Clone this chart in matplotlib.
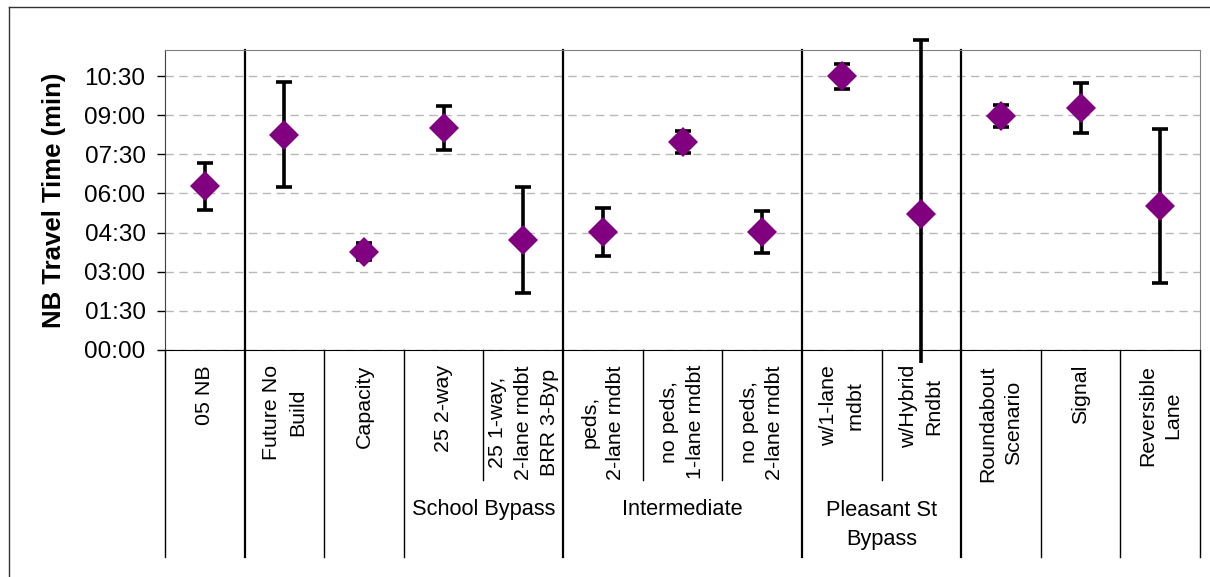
import matplotlib
matplotlib.use("Agg")
import matplotlib.pyplot as plt
from matplotlib.patches import Rectangle
from matplotlib.lines import Line2D
from matplotlib.ticker import FixedLocator, FuncFormatter

plt.rcParams['font.family'] = ['Liberation Sans', 'DejaVu Sans']

# ---- data (minutes) ----
categories = ["05 NB", "Future No\nBuild", "Capacity", "25 2-way",
              "25 1-way,\n2-lane rndbt\nBRR 3-Byp",
              "peds,\n2-lane rndbt", "no peds,\n1-lane rndbt", "no peds,\n2-lane rndbt",
              "w/1-lane\nrndbt", "w/Hybrid\nRndbt",
              "Roundabout\nScenario", "Signal", "Reversible\nLane"]
mean_min = [6.28, 8.26, 3.77, 8.52, 4.21, 4.53, 7.98, 4.53, 10.5, 5.21, 8.97, 9.28, 5.52]
err_min = [0.9, 2.03, 0.33, 0.85, 2.03, 0.92, 0.43, 0.8, 0.48, 6.67, 0.41, 0.96, 2.95]
groups = ["School Bypass", "Intermediate", "Pleasant St\nBypass"]
group_first = [3, 5, 8]
group_last = [4, 7, 9]
ytick_vals = [0, 1.5, 3, 4.5, 6, 7.5, 9, 10.5]

W, H = 1210, 577
fig = plt.figure(figsize=(W / 100, H / 100), dpi=100)
ax = fig.add_axes([165 / W, 1 - 350 / H, (1200 - 165) / W, 300 / H])

n = len(categories)
x = list(range(n))
ax.set_xlim(-0.5, n - 0.5)
ax.set_ylim(0, 11.5)

# grid
ax.yaxis.set_major_locator(FixedLocator(ytick_vals))
ax.yaxis.set_major_formatter(FuncFormatter(
    lambda v, p: f"{int(v):02d}:{int(round((v % 1) * 60)):02d}"))
ax.grid(axis='y', color='#b8b8b8', linestyle=(0, (6, 4)), linewidth=1.0)
ax.set_axisbelow(True)
ax.tick_params(axis='y', labelsize=17.5, length=6, width=1, pad=8, colors='black')
ax.tick_params(axis='x', bottom=False, labelbottom=False)
for s in ['top', 'right']:
    ax.spines[s].set_color('#808080')
ax.spines['left'].set_color('#404040')
ax.spines['bottom'].set_color('black')

ax.set_ylabel("NB Travel Time (min)", fontsize=18.5, fontweight='bold')
ax.yaxis.set_label_coords(-0.096, 0.5)

tx = ax.get_xaxis_transform()

# group boundaries inside plot
bounds_full = [-0.5, 0.5, 1.5, 2.5, 4.5, 7.5, 9.5, 10.5, 11.5, 12.5]
bounds_part = [3.5, 5.5, 6.5, 8.5]
for b in [0.5, 4.5, 7.5, 9.5]:
    ax.plot([b, b], [0, 1], transform=tx, color='black', lw=1.6, zorder=2, clip_on=False)
y_full = (350 - 557) / 300
y_part = (350 - 480) / 300
for b in bounds_full:
    lw = 1.6 if b in (0.5, 4.5, 7.5, 9.5) else 1.0
    ax.plot([b, b], [0, y_full], transform=tx, color='black', lw=lw, clip_on=False)
for b in bounds_part:
    ax.plot([b, b], [0, y_part], transform=tx, color='black', lw=1.0, clip_on=False)

# error bars
eb = ax.errorbar(x, mean_min, yerr=err_min, fmt='none', ecolor='black',
                 elinewidth=2.6, capsize=6, capthick=2.6, zorder=3)
clip_rect = Rectangle((0, 1 - 363 / H), 1, 363 / H, transform=fig.transFigure,
                      facecolor='none', edgecolor='none')
for art in list(eb.lines[1]) + list(eb.lines[2]):
    art.set_clip_on(True)
    art.set_clip_path(clip_rect)

ax.plot(x, mean_min, linestyle='none', marker='D', markersize=15,
        color='#800080', markeredgewidth=0, zorder=4)

# category labels
for i, lab in enumerate(categories):
    ax.text(i, -0.05, lab, transform=tx, rotation=90, ha='center', va='top',
            multialignment='center', fontsize=15.4, linespacing=1.45)

for g, a, b in zip(groups, group_first, group_last):
    ax.text((a + b) / 2, -0.583 if '\n' in g else -0.533, g, transform=tx,
            ha='center', va='center', multialignment='center', fontsize=15.7,
            linespacing=1.45)

# outer chart border
fig.add_artist(Line2D([9 / W, 9 / W], [0, 1 - 7 / H], transform=fig.transFigure,
                      color='#333333', lw=1.0))
fig.add_artist(Line2D([9 / W, 1], [1 - 7 / H, 1 - 7 / H], transform=fig.transFigure,
                      color='#333333', lw=1.0))

fig.savefig("out.png", dpi=100, facecolor='white')
